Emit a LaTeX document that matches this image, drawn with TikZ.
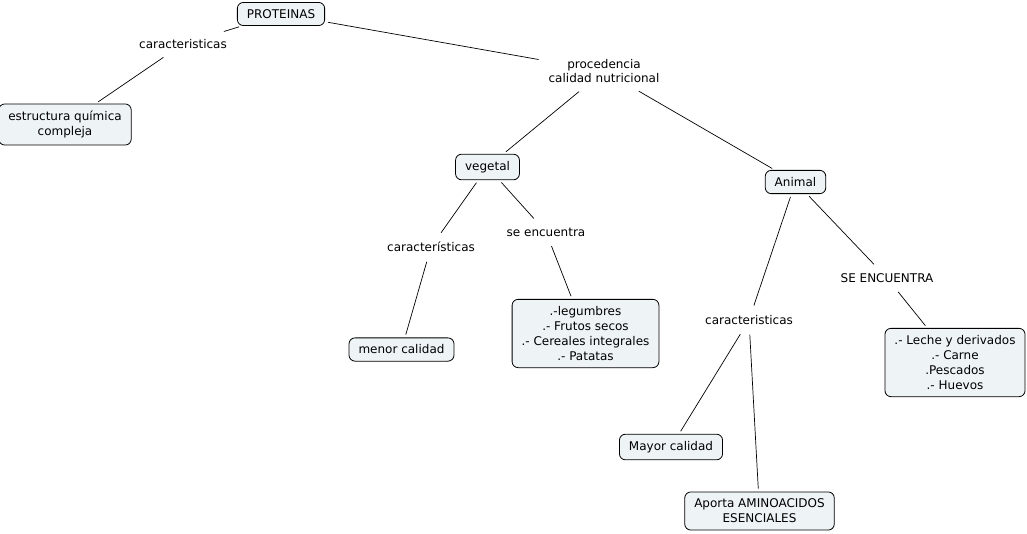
\documentclass[tikz,border=0pt]{standalone}
\usepackage{fontspec}
\setmainfont{DejaVu Sans}
\definecolor{cbox}{HTML}{EEF3F5}
\begin{document}
\begin{tikzpicture}[x=1pt,y=-1pt,
  concept/.style={draw=black, line width=0.8pt, fill=cbox, rounded corners=6pt,
    align=center, inner xsep=9.5pt, inner ysep=7pt, font=\fontsize{12}{15}\selectfont},
  lbl/.style={align=center, inner sep=2pt, outer sep=5pt, font=\fontsize{12}{14}\selectfont},
  link/.style={line width=0.7pt, shorten <=3pt, shorten >=3pt}]
\useasboundingbox (0,0) rectangle (1027,533);
\node[concept] (prot) at (281,14) {PROTEINAS};
\node[lbl] (car1) at (183,44) {caracteristicas};
\node[concept] (estr) at (65,124.5) {estructura química\\compleja};
\node[lbl] (proc) at (604,71) {procedencia\\calidad nutricional};
\node[concept] (veg) at (487.5,167) {vegetal};
\node[concept] (ani) at (795.5,182) {Animal};
\node[lbl] (car2) at (431,247) {características};
\node[lbl] (se1) at (546,232) {se encuentra};
\node[concept] (menor) at (401.5,349.5) {menor calidad};
\node[concept] (leg) at (585.5,333.5) {.-legumbres\\.- Frutos secos\\.- Cereales integrales\\.- Patatas};
\node[lbl] (car3) at (749,320) {caracteristicas};
\node[lbl] (se2) at (887,278) {SE ENCUENTRA};
\node[concept] (leche) at (955,362.5) {.- Leche y derivados\\.- Carne\\.Pescados\\.- Huevos};
\node[concept] (mayor) at (671,447) {Mayor calidad};
\node[concept] (apor) at (759.5,511) {Aporta AMINOACIDOS\\ESENCIALES};
\draw[link] (prot) -- (car1);
\draw[link] (car1) -- (estr);
\draw[link] (prot) -- (proc);
\draw[link] (proc) -- (veg);
\draw[link] (proc) -- (ani);
\draw[link] (veg) -- (car2);
\draw[link] (car2) -- (menor);
\draw[link] (veg) -- (se1);
\draw[link] (se1) -- (leg);
\draw[link] (ani) -- (car3);
\draw[link] (car3) -- (mayor);
\draw[link] (car3) -- (apor);
\draw[link] (ani) -- (se2);
\draw[link] (se2) -- (leche);
\end{tikzpicture}
\end{document}
